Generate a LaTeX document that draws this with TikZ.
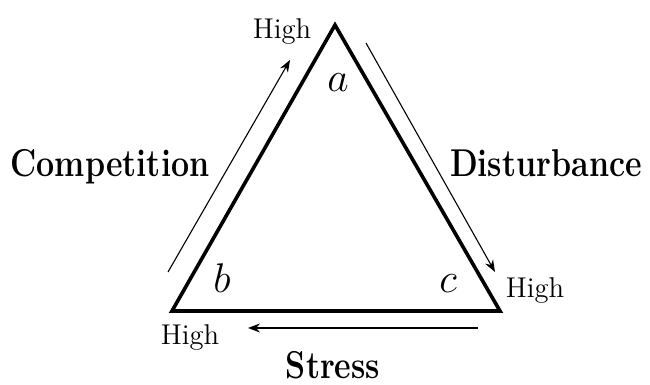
\documentclass[tikz,border=0pt]{standalone}
\usepackage{amsmath}
\usepackage{graphicx}
\usepackage{tikz}
\usetikzlibrary{positioning,calc,arrows.meta}
\tikzset{
  side/.style={draw,line width=1.8pt,line join=miter},
  trend/.style={draw,line width=0.55pt,-{Stealth[length=6pt,width=4.5pt]}},
  level/.style={font=\fontsize{14.3}{16}\selectfont,inner sep=0pt,anchor=base},
  corner/.style={font=\fontsize{22}{24}\selectfont,inner sep=0pt,anchor=base},
  factor/.style={font=\fontsize{19.4}{22}\selectfont\bfseries,inner sep=0pt,anchor=base}
}
\newcommand{\narrow}[1]{\scalebox{0.83}[1]{#1}}
\begin{document}
\begin{tikzpicture}[x=0.5pt,y=-0.5pt]
   \useasboundingbox (0,0) rectangle (650,385);
   % triangle corners
   \coordinate (top) at (335,25);
   \coordinate (left) at (172,311);
   \coordinate (right) at (500,311);
   \draw[side] (top) -- (left) -- (right) -- cycle;
   % trend arrows
   \coordinate (compS) at (168,272);
   \coordinate (compE) at (290,60);
   \coordinate (distS) at (366,43);
   \coordinate (distE) at (495,272);
   \coordinate (strS) at (478,328);
   \coordinate (strE) at (248,328);
   \draw[trend] (compS) -- (compE);
   \draw[trend] (distS) -- (distE);
   \draw[trend] (strS) -- (strE);
   % corner labels
   \node[corner] (a) at (338,92) {$a$};
   \node[corner] (b) at (222,293) {$b$};
   \node[corner] (c) at (448,293) {$c$};
   \node[level] (hightop) at (282,39) {High};
   \node[level] (highleft) at (190,345) {High};
   \node[level] (highright) at (535,298) {High};
   % factor names
   \node[factor] (comp) at (110,177) {\narrow{Competition}};
   \node[factor] (dist) at (546,177) {\narrow{Disturbance}};
   \node[factor] (stress) at (333,379) {\narrow{Stress}};
\end{tikzpicture}
\end{document}
